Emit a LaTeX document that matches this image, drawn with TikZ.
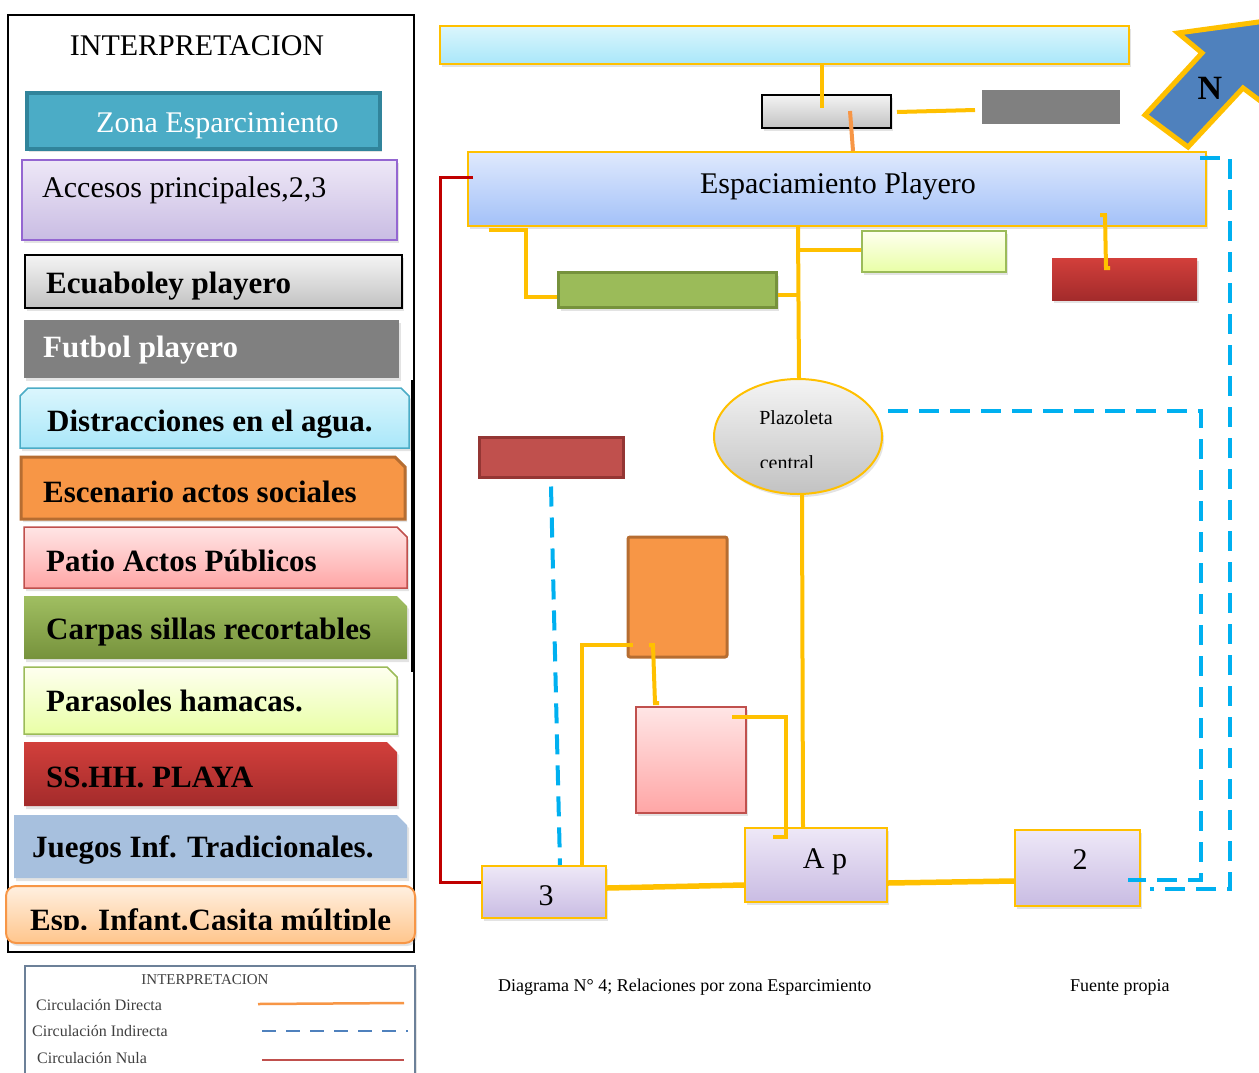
\documentclass[tikz,border=0pt]{standalone}
\usepackage{fontspec}
\setmainfont{Liberation Serif}
\usetikzlibrary{shapes.geometric,shadows}
\definecolor{yel}{HTML}{FFC000}
\definecolor{dblue}{HTML}{00B0F0}
\definecolor{nred}{HTML}{C00000}
\definecolor{lavtop}{HTML}{EEE8F7}
\definecolor{lavbot}{HTML}{C9BCE3}
\definecolor{gtop}{HTML}{F4F4F4}
\definecolor{gbot}{HTML}{C2C2C2}
\definecolor{orng}{HTML}{F79646}
\definecolor{orngdk}{HTML}{B66D31}
\definecolor{teal}{HTML}{4BACC6}
\definecolor{tealdk}{HTML}{31849B}
\definecolor{redm}{HTML}{C0504D}
\definecolor{reddk}{HTML}{943634}
\definecolor{grn}{HTML}{9BBB59}
\definecolor{grndk}{HTML}{76923C}
\definecolor{steel}{HTML}{4F81BD}
\definecolor{esptop}{HTML}{DFE9FD}
\definecolor{espbot}{HTML}{A3C1F8}
\definecolor{ssttop}{HTML}{D23F3B}
\definecolor{sstbot}{HTML}{A32B2B}
\definecolor{cyantop}{HTML}{DBF6FD}
\definecolor{cyanbot}{HTML}{A9E7F9}
\begin{document}
\begin{tikzpicture}[x=1pt,y=-1pt,
  lbl/.style={anchor=base west,inner sep=0pt,font=\fontsize{30}{36}\selectfont},
  blbl/.style={anchor=base west,inner sep=0pt,font=\fontsize{31}{36}\selectfont\bfseries},
  ylink/.style={draw=yel,line width=4pt},
  bdash/.style={draw=dblue,line width=4pt,dash pattern=on 20pt off 11pt},
  shd/.style={drop shadow={shadow xshift=2pt,shadow yshift=-3pt,opacity=0.22}},
  ybox/.style={rectangle,draw=yel,line width=2pt,inner sep=0pt,shd},
  lav/.style={top color=lavtop,bottom color=lavbot},
  small/.style={anchor=base west,inner sep=0pt,font=\fontsize{16}{19}\selectfont,text=black!75},
]
\useasboundingbox (0,0) rectangle (1259,1072);

% ---------------- left legend panel ----------------
\draw[line width=2pt] (8,15) rectangle (414,952);
\draw[line width=3pt] (412,380) -- (412,672);
\node[anchor=base,inner sep=0pt,font=\fontsize{30}{36}\selectfont] (ttl) at (197,55) {INTERPRETACION};

\path[fill=teal,draw=tealdk,line width=4pt,shd] (27,93) rectangle (380,149);
\node[lbl,text=white] (t1) at (96,132) {Zona Esparcimiento};

\path[lav,draw=violet!60!blue!60,line width=1.5pt,shd] (22,160) rectangle (397,240);
\node[lbl] (t2) at (42,197) {Accesos principales,2,3};

\path[top color=gtop,bottom color=gbot,draw=black,line width=2pt,shd] (25,255) rectangle (402,308);
\node[blbl] (t3) at (46,293) {Ecuaboley playero};

\path[fill=black!50,shd] (24,320) rectangle (399,378);
\node[blbl,text=white] (t4) at (43,357) {Futbol playero};

\path[top color=cyantop,bottom color=cyanbot,draw=teal,line width=1.5pt,shd]
  (20,396) -- (28,388) -- (401,388) -- (409,396) -- (409,448) -- (20,448) -- cycle;
\node[blbl] (t5) at (47,431) {Distracciones en el agua.};

\path[fill=orng,draw=orngdk,line width=3pt,shd]
  (21,457) -- (395,457) -- (405,467) -- (405,519) -- (21,519) -- cycle;
\node[blbl] (t6) at (43,502) {Escenario actos sociales};

\path[top color=red!10,bottom color=red!35!white,draw=redm,line width=1.5pt,shd]
  (24,527) -- (397,527) -- (407,537) -- (407,588) -- (24,588) -- cycle;
\node[blbl] (t7) at (46,571) {Patio Actos Públicos};

\path[top color=grn!95!white,bottom color=grndk,shd]
  (24,596) -- (397,596) -- (407,606) -- (407,659) -- (24,659) -- cycle;
\node[blbl] (t8) at (46,639) {Carpas sillas recortables};

\path[top color=green!5!yellow!6,bottom color=green!25!yellow!35,draw=grn,line width=1.5pt,shd]
  (24,667) -- (387,667) -- (397,677) -- (397,734) -- (24,734) -- cycle;
\node[blbl] (t9) at (46,711) {Parasoles hamacas.};

\path[top color=ssttop,bottom color=sstbot,shd]
  (24,742) -- (387,742) -- (397,752) -- (397,806) -- (24,806) -- cycle;
\node[blbl] (t10) at (46,787) {SS.HH. PLAYA};

\path[fill=steel!50!white,shd]
  (14,815) -- (397,815) -- (407,825) -- (407,878) -- (14,878) -- cycle;
\node[blbl] (t11) at (32,857) {Juegos Inf. Tradicionales.};

\path[top color=orange!12!white,bottom color=orange!45!white,draw=orng,line width=2pt,rounded corners=10pt,shd]
  (6,886) rectangle (415,943);
\begin{scope}
  \clip (0,880) rectangle (420,929);
  \node[blbl] (t12) at (30,930) {Esp. Infant.Casita múltiple};
\end{scope}

% small legend at bottom
\path[fill=white,draw=steel!40!gray,line width=2.5pt,shd] (25,966) rectangle (415,1085);
\node[anchor=base,inner sep=0pt,font=\fontsize{15}{18}\selectfont,text=black!75] (lt) at (205,984) {INTERPRETACION};
\node[small] (l1) at (36,1010) {Circulación Directa};
\node[small] (l2) at (32,1036) {Circulación Indirecta};
\node[small] (l3) at (37,1063) {Circulación Nula};
\coordinate (la1) at (258,1004); \coordinate (lb1) at (404,1003);
\coordinate (la2) at (262,1031); \coordinate (lb2) at (408,1031);
\coordinate (la3) at (262,1060); \coordinate (lb3) at (404,1060);
\draw[orng,line width=2.5pt] (la1) -- (lb1);
\draw[steel,line width=2.5pt,dash pattern=on 14pt off 10pt] (la2) -- (lb2);
\draw[redm,line width=2.5pt] (la3) -- (lb3);

% ---------------- right diagram ----------------
\node[ybox,top color=cyantop,bottom color=cyanbot,minimum width=689pt,minimum height=38pt] (topbar) at (784.5,45) {};
\node[rectangle,draw=black,line width=2pt,top color=gtop,bottom color=gbot,minimum width=129pt,minimum height=33pt,inner sep=0pt,shd] (ecua) at (826.5,111.5) {};
\node[rectangle,fill=black!50,minimum width=138pt,minimum height=34pt,inner sep=0pt] (futb) at (1051,107) {};
\node[ybox,top color=esptop,bottom color=espbot,minimum width=738pt,minimum height=74pt] (esp) at (837,189) {};
\node[anchor=base,inner sep=0pt,font=\fontsize{30}{36}\selectfont] (espt) at (838,193) {Espaciamiento Playero};

\node[rectangle,fill=grn,draw=grndk,line width=3pt,minimum width=218pt,minimum height=35pt,inner sep=0pt,shd] (carp) at (667.5,290) {};
\node[rectangle,top color=green!5!yellow!6,bottom color=green!25!yellow!35,draw=grn,line width=1.5pt,minimum width=144pt,minimum height=41pt,inner sep=0pt,shd] (para) at (934,251.5) {};
\node[rectangle,top color=ssttop,bottom color=sstbot,minimum width=145pt,minimum height=42pt,inner sep=0pt,shd] (sshh) at (1124.5,279) {};

\node[ellipse,draw=yel,line width=2pt,top color=gtop,bottom color=gbot,minimum width=168pt,minimum height=115pt,inner sep=0pt,shd] (plaz) at (798,436.5) {};
\node[anchor=base,inner sep=0pt,font=\fontsize{20}{24}\selectfont] (plazt) at (796,424) {Plazoleta};
\begin{scope}
  \clip (720,445) rectangle (880,467);
  \node[anchor=base,inner sep=0pt,font=\fontsize{20}{24}\selectfont] (plazc) at (787,469) {central};
\end{scope}

\node[rectangle,fill=redm,draw=reddk,line width=3pt,minimum width=144pt,minimum height=40pt,inner sep=0pt] (dist) at (551,457) {};
\node[rectangle,fill=orng,draw=orngdk,line width=3pt,rounded corners=2pt,minimum width=99pt,minimum height=120pt,inner sep=0pt] (esc) at (677.5,597) {};
\node[rectangle,top color=red!10,bottom color=red!35!white,draw=redm,line width=1.5pt,minimum width=110pt,minimum height=106pt,inner sep=0pt,shd] (patio) at (691,760) {};

\node[ybox,lav,minimum width=124pt,minimum height=52pt] (b3) at (544,892) {};
\node[anchor=base,inner sep=0pt,font=\fontsize{30}{36}\selectfont] (b3t) at (546,905) {3};
\node[ybox,lav,minimum width=142pt,minimum height=74pt] (ap) at (816,865) {};
\node[anchor=base,inner sep=0pt,font=\fontsize{30}{36}\selectfont] (apt) at (825,868) {A p};
\node[ybox,lav,minimum width=125pt,minimum height=76pt] (b2) at (1077.5,868) {};
\node[anchor=base,inner sep=0pt,font=\fontsize{30}{36}\selectfont] (b2t) at (1080,869) {2};

% north arrow
\path[fill=steel,draw=yel,line width=5pt,line join=miter]
  (1295,17) -- (1178,33) -- (1202,53) -- (1145,115) -- (1188,147) -- (1243,88) -- (1295,127) -- cycle;
\node[inner sep=0pt,font=\fontsize{34}{40}\selectfont\bfseries] (north) at (1210,88) {N};

% ---------------- connectors ----------------
\draw[ylink] (topbar.south -| 822,0) -- (822,108);
\draw[orng,line width=4pt] (850,111) -- (esp.north -| 853,0);
\draw[ylink] (897,112) -- (975,110);
\draw[nred,line width=3pt] (473,177) -- (440,177) -- (440,882) -- (b3.west |- 0,882);
\draw[ylink] (489,230) -- (526,230) -- (526,297) -- (carp.west |- 0,297);
\draw[ylink] (carp.east |- 0,295) -- (798,295);
\draw[ylink] (esp.south -| 798,0) -- (plaz.north -| 799,0);
\draw[ylink] (798,250) -- (para.west |- 0,250);
\draw[ylink] (1100,215) -- (1105,215) -- (1106,268) -- (1110,268);
\draw[ylink] (plaz.south -| 802,0) -- (ap.north -| 803,0);
\draw[bdash] (plaz.east |- 0,411) ++(5,0) -- (1201,411) -- (1201,880) -- (1128,880);
\draw[bdash] (1200,158) -- (1230,158) -- (1230,889) -- (1150,889);
\draw[bdash] (dist.south -| 551,0) ++(0,8) -- (b3.north -| 560,0);
\draw[ylink] (633,645) -- (582,645) -- (b3.north -| 582,0);
\draw[ylink] (649,645) -- (653,645) -- (655,703) -- (659,703);
\draw[ylink] (732,717) -- (786,717) -- (786,837) -- (773,837);
\draw[yel,line width=5.5pt] (b3.east |- 0,888) -- (ap.west |- 0,885);
\draw[yel,line width=5.5pt] (ap.east |- 0,883) -- (b2.west |- 0,881);

% caption
\node[anchor=base west,inner sep=0pt,font=\fontsize{18}{22}\selectfont] (cap) at (498,991) {Diagrama N° 4; Relaciones por zona Esparcimiento};
\node[anchor=base west,inner sep=0pt,font=\fontsize{18}{22}\selectfont] (src) at (1070,991) {Fuente propia};
\end{tikzpicture}
\end{document}
